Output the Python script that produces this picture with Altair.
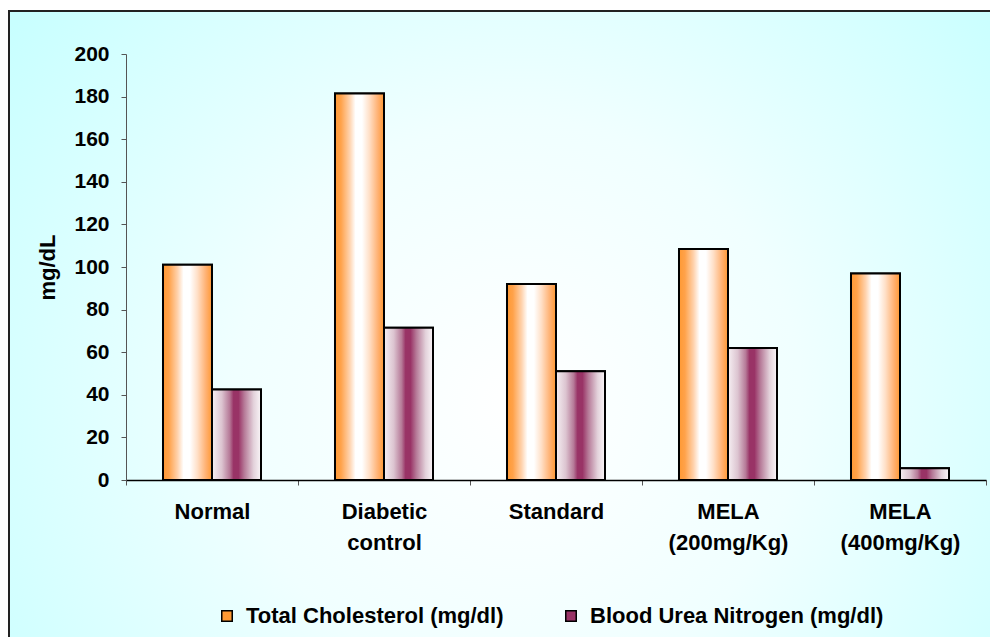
import altair as alt
import pandas as pd

# ---- data -------------------------------------------------------------
categories = ["Normal", "Diabetic\ncontrol", "Standard", "MELA\n(200mg/Kg)", "MELA\n(400mg/Kg)"]
series_names = ["Total Cholesterol (mg/dl)", "Blood Urea Nitrogen (mg/dl)"]
total_cholesterol = [101, 181.5, 92, 108.5, 97]
blood_urea_nitrogen = [42.5, 71.5, 51, 62, 5.5]
y_ticks = [0, 20, 40, 60, 80, 100, 120, 140, 160, 180, 200]

rows = []
for grp, tc, bun in zip(categories, total_cholesterol, blood_urea_nitrogen):
    rows.append({"group": grp, "series": series_names[0], "value": tc})
    rows.append({"group": grp, "series": series_names[1], "value": bun})
df = pd.DataFrame(rows)

FONT = "Liberation Sans"

# ---- fills ------------------------------------------------------------
orange_grad = {
    "gradient": "linear", "x1": 0, "x2": 1, "y1": 0, "y2": 0,
    "stops": [
        {"offset": 0.0, "color": "#FF9933"},
        {"offset": 0.12, "color": "#FFA24A"},
        {"offset": 0.3, "color": "#FFD3AE"},
        {"offset": 0.42, "color": "#FFFFFF"},
        {"offset": 0.55, "color": "#FFFFFF"},
        {"offset": 0.7, "color": "#FFE0C8"},
        {"offset": 0.88, "color": "#FFB070"},
        {"offset": 1.0, "color": "#FF9933"},
    ],
}
maroon_grad = {
    "gradient": "linear", "x1": 0, "x2": 1, "y1": 0, "y2": 0,
    "stops": [
        {"offset": 0.0, "color": "#F6F0F3"},
        {"offset": 0.2, "color": "#DCC4D0"},
        {"offset": 0.36, "color": "#B67A98"},
        {"offset": 0.44, "color": "#993366"},
        {"offset": 0.54, "color": "#993366"},
        {"offset": 0.66, "color": "#B67A98"},
        {"offset": 0.85, "color": "#E3D2DB"},
        {"offset": 1.0, "color": "#FAF6F8"},
    ],
}
panel_grad = {
    "gradient": "radial", "x1": 0.5, "y1": 0.55, "r1": 0,
    "x2": 0.5, "y2": 0.55, "r2": 0.62,
    "stops": [
        {"offset": 0.0, "color": "#FFFFFF"},
        {"offset": 0.45, "color": "#F0FFFF"},
        {"offset": 1.0, "color": "#C8FFFF"},
    ],
}

# ---- encodings --------------------------------------------------------
x_enc = alt.X(
    "group:N",
    sort=categories,
    title=None,
    scale=alt.Scale(paddingInner=0, paddingOuter=0),
    axis=alt.Axis(
        labelExpr="split(datum.label, '\\n')",
        labelAngle=0,
        labelFont=FONT,
        labelFontSize=22,
        labelFontWeight="bold",
        labelColor="black",
        labelLineHeight=31,
        labelPadding=16,
        tickBand="extent",
        tickSize=5,
        tickColor="#555555",
        domainColor="black",
        domainWidth=1.5,
        zindex=1,
    ),
)
xoff_enc = alt.XOffset(
    "series:N", sort=series_names,
    scale=alt.Scale(paddingInner=0, paddingOuter=0.755),
)
y_enc = alt.Y(
    "value:Q",
    title="mg/dL",
    scale=alt.Scale(domain=[0, 200], nice=False),
    axis=alt.Axis(
        values=y_ticks,
        grid=False,
        labelFont=FONT,
        labelFontSize=21,
        labelFontWeight="bold",
        labelColor="black",
        labelPadding=12,
        tickSize=5,
        tickColor="#555555",
        domainColor="#555555",
        titleFont=FONT,
        titleFontSize=22,
        titleFontWeight="bold",
        titleColor="black",
        titlePadding=14,
        zindex=1,
    ),
)

# chart-area panel with its border
panel = alt.Chart(pd.DataFrame({"k": [0]})).mark_rect(
    fill=panel_grad, stroke="#222222", strokeWidth=2
).encode(
    x=alt.value(-117), x2=alt.value(900),
    y=alt.value(-43), y2=alt.value(640),
)

# solid bars carry the legend
legend_bars = alt.Chart(df).mark_bar(stroke="black", strokeWidth=2).encode(
    x=x_enc,
    xOffset=xoff_enc,
    y=y_enc,
    color=alt.Color(
        "series:N",
        sort=series_names,
        scale=alt.Scale(domain=series_names, range=["#FF9933", "#993366"]),
        legend=alt.Legend(
            title=None,
            orient="none",
            direction="horizontal",
            legendX=90,
            legendY=551,
            symbolType="square",
            symbolSize=110,
            symbolStrokeColor="black",
            symbolStrokeWidth=1.5,
            symbolOpacity=1,
            labelFont=FONT,
            labelFontSize=22,
            labelFontWeight="bold",
            labelColor="black",
            labelOffset=8,
            labelLimit=500,
            columnPadding=56,
        ),
    ),
)

# shaded bars drawn on top
shaded_bars = alt.Chart(df).mark_bar(stroke="black", strokeWidth=2).encode(
    x=x_enc,
    xOffset=xoff_enc,
    y=y_enc,
    fill=alt.condition(
        f"datum.series === '{series_names[0]}'",
        alt.value(orange_grad),
        alt.value(maroon_grad),
    ),
)

chart = (
    alt.layer(panel, legend_bars, shaded_bars)
    .properties(
        width=860,
        height=426,
        autosize=alt.AutoSizeParams(type="none"),
        padding={"left": 126, "top": 54, "right": 4, "bottom": 157},
        background="white",
    )
    .configure_view(stroke=None)
)

chart.save("out.html", embed_options={"renderer": "svg", "actions": False})
